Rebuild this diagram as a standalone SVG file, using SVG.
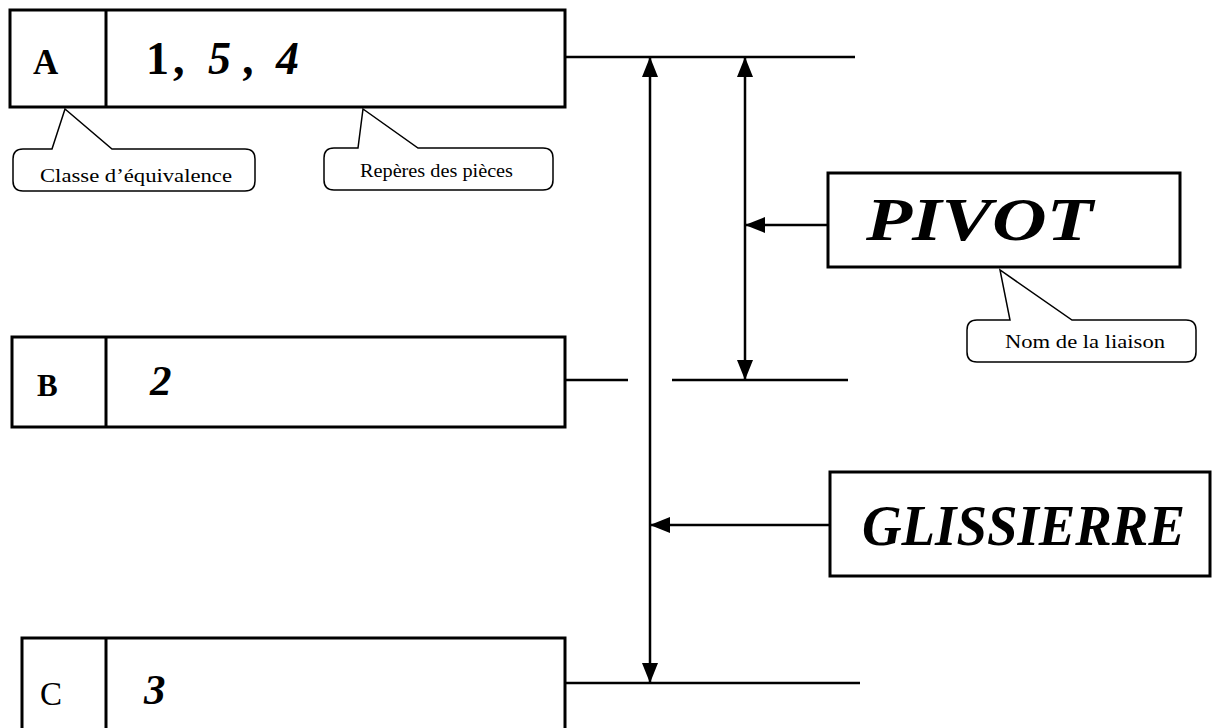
<svg xmlns="http://www.w3.org/2000/svg" width="1223" height="728" viewBox="0 0 1223 728">
<style>
.box{fill:#fff;stroke:#000;stroke-width:3}
.div{stroke:#000;stroke-width:3}
.ln{stroke:#000;stroke-width:2.5;fill:none}
.bub{fill:#fff;stroke:#000;stroke-width:1.5}
.lbl{font-family:"Liberation Serif","Times New Roman",serif;font-weight:bold;fill:#000}
.num{font-family:"Liberation Serif","Times New Roman",serif;font-weight:bold;font-style:italic;fill:#000}
.big{font-family:"Liberation Serif","Times New Roman",serif;font-weight:bold;font-style:italic;fill:#000}
.small{font-family:"Liberation Serif","Times New Roman",serif;font-size:19px;fill:#000}
</style>
<defs>
<marker id="arr" markerUnits="userSpaceOnUse" markerWidth="20" markerHeight="16" refX="20" refY="8" orient="auto-start-reverse">
<path d="M0,0 L20,8 L0,16 Z" fill="#000"/>
</marker>
</defs>
<g id="connectors">
<line class="ln" x1="565" y1="57" x2="855" y2="57"/>
<line class="ln" x1="565" y1="380" x2="628" y2="380"/>
<line class="ln" x1="672" y1="380" x2="848" y2="380"/>
<line class="ln" x1="565" y1="683" x2="860" y2="683"/>
<line class="ln" x1="650" y1="57" x2="650" y2="683" marker-start="url(#arr)" marker-end="url(#arr)"/>
<line class="ln" x1="745" y1="57" x2="745" y2="380" marker-start="url(#arr)" marker-end="url(#arr)"/>
<line class="ln" x1="828" y1="225" x2="745" y2="225" marker-end="url(#arr)"/>
<line class="ln" x1="830" y1="525" x2="650" y2="525" marker-end="url(#arr)"/>
</g>
<g id="nodeA">
<rect class="box" x="10" y="10" width="555" height="97"/>
<line class="div" x1="106" y1="10" x2="106" y2="107"/>
<text class="lbl" x="33" y="74" font-size="35">A</text>
<text class="lbl" y="74" font-size="46"><tspan x="146">1</tspan><tspan x="173">,</tspan><tspan class="num" x="208">5</tspan><tspan class="num" x="244">,</tspan><tspan class="num" x="276">4</tspan></text>
</g>
<g id="callout-classe">
<path class="bub" d="M23,149 L52,149 L65,109 L112,149 L245,149 Q255,149 255,159 L255,181 Q255,191 245,191 L23,191 Q13,191 13,181 L13,159 Q13,149 23,149 Z"/>
<text class="small" x="40" y="182" textLength="192" lengthAdjust="spacingAndGlyphs">Classe d’équivalence</text>
</g>
<g id="callout-reperes">
<path class="bub" d="M334,148 L358,148 L363,109 L418,148 L543,148 Q553,148 553,158 L553,180 Q553,190 543,190 L334,190 Q324,190 324,180 L324,158 Q324,148 334,148 Z"/>
<text class="small" x="360" y="177" textLength="153" lengthAdjust="spacingAndGlyphs">Repères des pièces</text>
</g>
<g id="nodeB">
<rect class="box" x="12" y="337" width="553" height="90"/>
<line class="div" x1="106" y1="337" x2="106" y2="427"/>
<text class="lbl" x="37" y="396" font-size="31">B</text>
<text class="num" x="150" y="395" font-size="43">2</text>
</g>
<g id="nodeC">
<rect class="box" x="22" y="638" width="543" height="100"/>
<line class="div" x1="106" y1="638" x2="106" y2="728"/>
<text x="40" y="705" font-size="33" font-family="'Liberation Serif','Times New Roman',serif" fill="#000">C</text>
<text class="num" x="144" y="704" font-size="43">3</text>
</g>
<g id="pivot">
<rect class="box" x="828" y="173" width="352" height="94"/>
<text class="big" transform="translate(866,240) scale(1.22,1)" x="0" y="0" font-size="62">PIVOT</text>
</g>
<g id="callout-nom">
<path class="bub" d="M977,320 L1010,320 L1000,270 L1072,320 L1186,320 Q1196,320 1196,330 L1196,352 Q1196,362 1186,362 L977,362 Q967,362 967,352 L967,330 Q967,320 977,320 Z"/>
<text class="small" x="1005" y="348" textLength="160" lengthAdjust="spacingAndGlyphs">Nom de la liaison</text>
</g>
<g id="glissierre">
<rect class="box" x="830" y="472" width="380" height="104"/>
<text class="big" x="862" y="545" font-size="57" textLength="323" lengthAdjust="spacingAndGlyphs">GLISSIERRE</text>
</g>
</svg>
